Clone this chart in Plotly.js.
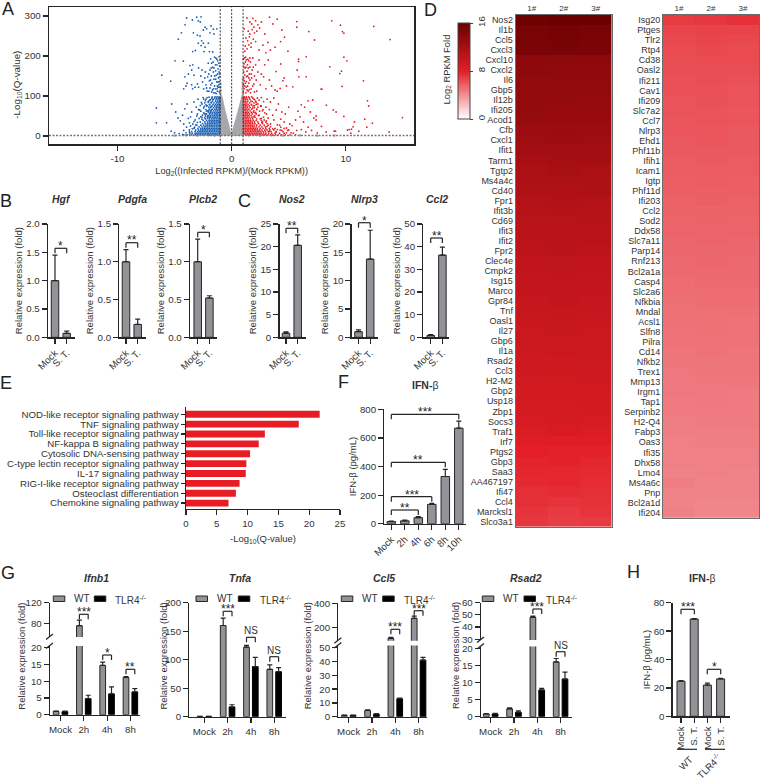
<!DOCTYPE html>
<html><head><meta charset="utf-8">
<script src="https://cdn.plot.ly/plotly-3.0.1.min.js"></script>
<style>html,body{margin:0;padding:0;background:#fff}#c{width:760px;height:781px}</style></head>
<body><div id="c"></div>
<script>
// ---------- A: volcano ----------
const grayRows=[[4,.08,.2,.32,.44,.56,.68,.8,.92,-.1,-.22,-.34,-.46,-.58,-.7,-.82,-.94],[9,.13,.25,.37,.49,.61,.73,.85,.97,-.15,-.27,-.39,-.51,-.63,-.75,-.87,-.98],[14,.17,.29,.41,.53,.65,.77,.89,-.2,-.32,-.44,-.56,-.68,-.8,-.92],[19,.21,.33,.45,.57,.69,.81,.93,-.25,-.37,-.49,-.61,-.73,-.85,-.97],[24,.26,.38,.5,.62,.74,.86,.98,-.29,-.41,-.53,-.65,-.77,-.89],[29,.31,.43,.55,.67,.79,.91,-.34,-.46,-.58,-.7,-.82,-.94],[34,.36,.48,.6,.72,.84,.96,-.38,-.5,-.62,-.74,-.86,-.98],[39,.41,.53,.65,.77,.89,-.43,-.55,-.67,-.79,-.91],[44,.46,.58,.7,.82,.94,-.48,-.6,-.72,-.84,-.96],[49,.51,.63,.75,.87,.98,-.52,-.64,-.76,-.88,-.99],[54,.55,.67,.79,.91,-.56,-.68,-.8,-.92],[59,.6,.72,.84,.96,-.61,-.73,-.85,-.97],[64,.64,.76,.88,.98,-.65,-.77,-.89],[69,.69,.81,.93,-.69,-.81,-.93],[74,.74,.86,.98,-.73,-.85,-.97],[79,.78,.9,-.77,-.89],[84,.83,.95,-.8,-.92],[89,.87,.98,-.84,-.96],[94,.92,.99,-.88,-.98],[99,.96,-.93]];
const graySparse=[[.98,108],[.95,118],[.99,126],[.97,133],[-.98,106],[-.96,114],[-.99,122],[-.97,130],[.99,142],[-5,1],[-4,2],[-3,1],[-2,2],[-1.5,1],[1.5,2],[2.5,1],[3.5,2],[4.5,1],[6,2],[7.5,1],[9,1]];
const blueSparse=[[-3.94,295],[-3.44,290],[-3.06,297],[-2.68,298],[-2.92,288],[-4.08,278],[-2.33,272],[-2.48,265],[-2.19,268],[-1.6,267],[-1.9,258],[-1.55,255],[-4.4,258],[-4.67,242],[-3.35,258],[-3,252],[-2.77,250],[-2.63,238],[-2.92,232],[-2.48,232],[-2.04,232],[-2.68,226],[-2.33,222],[-3.41,211],[-3.18,214],[-2.42,211],[-1.95,211],[-1.66,210],[-1.8,275],[-2.75,285],[-1.3,268],
[-4.96,188],[-4.23,187],[-6.12,152],[-5.34,137],[-3.65,176],[-3.41,178],[-3.79,155],[-4.1,148],[-3.5,165],[-2.9,170],[-2.6,165],[-2.3,160],[-3.9,132],[-3.3,152],[-3,130],[-4.2,118],[-4,125],[-3.5,128],[-3.42,118],[-3.2,122],[-2.9,122],[-2.7,150],[-2.55,135],[-2.45,118],[-2.35,145],[-2.25,128],[-2.15,112],[-2.05,182],[-2,155],[-1.95,138],[-1.9,120],[-1.85,193],[-1.8,170],[-1.78,150],[-1.72,132],[-1.68,115],[-1.62,185],[-1.6,160],[-1.55,142],[-1.5,125],[-1.45,108],[-1.42,178],[-1.38,195],[-1.35,152],[-1.3,135],[-1.28,118],[-1.22,188],[-1.2,168],[-1.15,145],[-1.12,128],[-1.08,110],[-1.05,175],[-1.03,155],[-1.02,190],[-1.1,198],[-1.5,197],[-1.4,163],[-1.25,112],[-1.18,122],[-1.35,106],[-1.6,118],[-1.75,110],[-1.05,136],[-1.1,160],[-1.28,178],[-1.48,150],[-1.66,172],[-1.9,165],[-2.1,148],[-2.2,120],[-1.12,182],[-1.3,192],[-1.22,155],[-1.4,142],[-1.55,170],[-1.75,182],[-1.85,140],[-1.02,122],[-1.06,148],[-1.18,135],[-1.42,118],[-1.58,108],[-1.82,128],[-2,112],[-1.25,125],
[-6.6,70],[-6.6,33],[-5.7,33],[-5.25,80],[-5.3,12],[-4.9,60],[-4.7,45],[-4.5,38],[-4.3,52],[-4.2,30],[-4.1,68],[-3.9,80],[-3.8,44],[-3.6,25],[-3.5,60],[-3.3,85],[-3.2,40],[-3.1,72],[-3,55],[-2.95,92],[-2.8,65],[-2.7,48],[-2.65,84],[-2.5,96],[-2.45,70],[-2.4,56],[-2.3,88],[-2.25,78],[-2.2,62],[-2.15,96],[-2.1,50],[-2.05,84],[-2,72],[-5,8],[-4.6,6],[-4.2,14],[-3.95,22],[-3.7,10],
[-2.6,42],[-2.35,45],[-2.1,44],[-1.95,47],[-2.55,52],[-2.3,50],[-2.2,55],[-2.45,58],[-2.05,60],[-1.9,56],[-2.7,62],[-2.25,66],[-2,64],[-2.4,74],[-2.15,76],[-1.95,78],[-2.6,80],[-2.35,83],[-2.05,86],[-1.9,90],[-2.25,92],[-1.98,97],[-2.45,92],[-2.75,76],[-2.9,66],[-3.05,50],[-2.85,44],[-3.3,36],[-3,34],[-3.6,48],[-3.4,30],[-3.7,33],[-3.15,28],[-3.25,22],[-3.45,18],[-3.7,15],[-4,8],[-4.3,4],[-1.7,58],[-1.75,66],[-1.8,74],[-1.78,84],[-1.65,92],[-1.85,62],[-1.88,50]];
const blueRows=[[3,-1.05,-1.2,-1.35,-1.5,-1.65,-1.8,-1.95,-2.1,-2.25,-2.4,-2.55,-2.7,-2.85,-3,-3.15,-3.3,-3.5,-3.7,-3.9,-4.2],[7,-1.1,-1.25,-1.4,-1.55,-1.7,-1.85,-2,-2.15,-2.3,-2.45,-2.6,-2.75,-2.9,-3.05,-3.2,-3.45,-3.65],[11,-1.03,-1.18,-1.33,-1.48,-1.63,-1.78,-1.93,-2.08,-2.23,-2.38,-2.53,-2.68,-2.83,-2.98,-3.2,-3.5],[15,-1.07,-1.22,-1.37,-1.52,-1.67,-1.82,-1.97,-2.12,-2.27,-2.42,-2.57,-2.72,-2.9,-3.15],[19,-1.02,-1.17,-1.32,-1.47,-1.62,-1.77,-1.92,-2.07,-2.22,-2.37,-2.52,-2.7,-2.95,-3.3],[23,-1.06,-1.21,-1.36,-1.51,-1.66,-1.81,-1.96,-2.11,-2.26,-2.41,-2.6,-2.85],[27,-1.04,-1.19,-1.34,-1.49,-1.64,-1.79,-1.94,-2.09,-2.24,-2.45,-2.7,-3.05],[31,-1.08,-1.23,-1.38,-1.53,-1.68,-1.83,-1.98,-2.13,-2.3,-2.55],[35,-1.03,-1.18,-1.33,-1.48,-1.63,-1.78,-1.93,-2.1,-2.35,-2.75],[39,-1.06,-1.21,-1.36,-1.51,-1.66,-1.81,-1.98,-2.2,-2.5],[43,-1.02,-1.17,-1.32,-1.47,-1.62,-1.77,-1.95,-2.3],[47,-1.09,-1.24,-1.39,-1.54,-1.69,-1.86,-2.12,-2.6],[51,-1.04,-1.19,-1.34,-1.49,-1.64,-1.82,-2.05],[55,-1.07,-1.22,-1.37,-1.52,-1.72,-1.95,-2.3],[59,-1.03,-1.18,-1.33,-1.48,-1.66,-1.88],[63,-1.08,-1.23,-1.38,-1.56,-1.78,-2.1],[67,-1.02,-1.17,-1.32,-1.47,-1.68,-1.95],[71,-1.06,-1.21,-1.36,-1.58,-1.84],[75,-1.04,-1.19,-1.34,-1.5,-1.72,-2.2],[79,-1.09,-1.24,-1.42,-1.63,-1.92],[83,-1.03,-1.18,-1.33,-1.55,-1.8],[87,-1.07,-1.22,-1.4,-1.68,-2],[91,-1.05,-1.2,-1.37,-1.6,-1.85],[95,-1.02,-1.16,-1.32,-1.5,-1.75],[98,-1.1,-1.28,-1.45,-1.7]];
const redSparse=[[1.34,295],[1.86,294],[3.32,297],[3.99,292],[3.61,280],[5.71,286],[5.71,272],[6.76,261],[7.26,240],[4.4,265],[4.63,247],[4.28,236],[4.93,212],[2.74,227],[3.17,234],[1.6,285],[1.75,280],[1.95,272],[2.1,288],[2.3,278],[2.45,270],[2.6,285],[1.45,262],[1.6,255],[1.8,266],[2,258],[2.2,262],[1.25,245],[1.4,238],[1.55,248],[1.7,232],[1.9,242],[2.1,236],[1.2,225],[1.35,218],[1.5,228],[1.7,222],[1.15,212],[1.1,268],[2.9,255],[3.4,215],[3,208],[3.8,222],[2.4,215],
[5.86,192],[5.86,186],[6.53,198],[5.74,165],[5.89,148],[6.53,148],[7.9,117],[5.36,123],[4.49,138],[4.8,125],[4.3,180],[3.9,161],[3.8,115],[3.99,112],[4.25,119],[4.6,145],[3.3,140],[3.5,125],[2.6,155],[2.9,178],[3.2,190],[2.4,190],[2.8,148],[3,118],[2.5,128],[2.2,112],[2.1,178],[2,150],[1.95,130],[1.85,195],[1.8,165],[1.75,145],[1.7,118],[1.65,185],[1.6,172],[1.55,155],[1.5,132],[1.45,112],[1.42,192],[1.38,178],[1.35,162],[1.3,148],[1.28,122],[1.25,108],[1.22,197],[1.2,185],[1.18,170],[1.15,152],[1.12,138],[1.1,118],[1.08,180],[1.06,160],[1.05,145],[1.04,128],[1.03,110],[1.02,192],[1.3,136],[1.4,125],[1.55,116],[1.6,140],[1.9,172],[2.15,140],[2.3,160],[1.5,188],[1.12,195],[1.28,190],[1.45,170],[1.6,195],[1.25,172],[1.4,150],[1.72,155],[1.15,125],[1.35,115],[1.85,125],[2,110],[1.5,145],[1.07,172],[1.2,132],[1.65,108],
[8.77,288],[9.53,277],[9.7,261],[9.83,257],[12.45,274],[13.88,241],[9.83,197],[10.1,188],[8.6,173],[9.62,162],[9.47,156],[11.55,138],[9.68,124],[7.84,117],[11.9,88],[12,75],[8.3,77],[8.9,65],[9.15,60],[9.83,49],[14.96,46],[11.66,42],[12.33,32],[10.76,35],[10.64,23],[11.84,22],[7.87,24],[7.4,40],[10.3,16],[10.15,15],[10.5,17],[9.1,12],[8.98,12],[8.28,10],[11.14,12],[13.79,10],[10.44,7],
[5.8,62],[6.1,78],[6.7,88],[7.1,90],[6.4,72],[6.9,60],[7.4,50],[7.2,45],[6,48],[5.6,40],[6.3,35],[6.7,22],[6.1,16],[6.5,10],[7,14],[7.5,8],[5.3,26],[5.1,30],[5.7,14],[5.2,8],[4.8,20],[4.6,35],[4.4,60],[4.1,80],[3.7,95],[3.9,65],[4.7,55],[5,72],[4.3,42],[3.4,85],[3.1,92],[3.3,66],[3.6,52],[3,72],[2.8,86],[2.9,58],[2.6,96],[2.55,75],[2.4,90],[2.45,62],[2.3,80],[2.25,95],[3.7,40],[3.2,45],[4,28],[4.4,14],[4.8,8],[3.6,18],[3.9,10],
[2.4,52],[2.6,44],[2.2,66],[2.05,58],[2.3,72],[2,76],[2.15,84],[1.95,92],[2.75,66],[3.05,38],[2.85,40],[2.65,34],[3.4,30],[3.1,24],[4.3,22],[4,16],[3.3,12],[4.9,14],[1.8,86],[1.75,78],[1.85,70],[1.9,60],[1.95,48]];
const redRows=[[3,1.05,1.2,1.35,1.5,1.65,1.8,1.95,2.1,2.25,2.4,2.55,2.7,2.85,3,3.2,3.4,3.6,3.85,4.1,4.35,4.7,5.1,5.6],[7,1.1,1.25,1.4,1.55,1.7,1.85,2,2.15,2.3,2.45,2.6,2.8,3,3.25,3.5,3.8,4.2,4.6,5.4],[11,1.03,1.18,1.33,1.48,1.63,1.78,1.93,2.08,2.23,2.38,2.55,2.75,2.95,3.2,3.45,3.9,4.5],[15,1.07,1.22,1.37,1.52,1.67,1.82,1.97,2.12,2.27,2.45,2.65,2.9,3.1,3.35,3.7,4.25,5],[19,1.02,1.17,1.32,1.47,1.62,1.77,1.92,2.07,2.25,2.5,2.75,3,3.3,3.8,4.6],[23,1.06,1.21,1.36,1.51,1.66,1.81,1.96,2.15,2.4,2.65,2.95,3.4],[27,1.04,1.19,1.34,1.49,1.64,1.79,1.98,2.2,2.5,2.85,3.2,4.2],[31,1.08,1.23,1.38,1.53,1.68,1.85,2.05,2.35,2.7,3.1],[35,1.03,1.18,1.33,1.48,1.63,1.8,2,2.3,2.7,3],[39,1.06,1.21,1.36,1.51,1.68,1.9,2.15,2.6],[43,1.02,1.17,1.32,1.47,1.65,1.85,2.2,2.5],[47,1.09,1.24,1.39,1.56,1.78,2.05,2.8],[51,1.04,1.19,1.34,1.49,1.7,2,2.35],[55,1.07,1.22,1.37,1.55,1.8,2.15,3.05],[59,1.03,1.18,1.33,1.48,1.72,2.1],[63,1.08,1.23,1.4,1.62,1.95,2.7],[67,1.02,1.17,1.32,1.5,1.75,2.2],[71,1.06,1.21,1.38,1.62,2],[75,1.04,1.19,1.34,1.55,1.88,2.6],[79,1.09,1.24,1.44,1.72,2.15],[83,1.03,1.18,1.33,1.58,1.95],[87,1.07,1.22,1.42,1.7,2.1],[91,1.05,1.2,1.38,1.62,2],[95,1.02,1.16,1.32,1.55,1.85],[98,1.1,1.28,1.48,1.75]];
const volcanoXTicks=[-10,0,10], volcanoXText=['-10','0','10'];
const volcanoYTicks=[0,100,200,300];

// ---------- B, C: expression ----------
const mockVsST=['Mock','S. T.'];
const hgfVals=[1,.07],hgfErr=[.45,.04];
const pdgfaVals=[1,.17],pdgfaErr=[.16,.07];
const plcb2Vals=[1,.52],plcb2Err=[.3,.03];
const nos2Vals=[.9,20.3],nos2Err=[.3,2.3];
const nlrp3Vals=[1,13.8],nlrp3Err=[.3,5.1];
const ccl2Vals=[.8,36.3],ccl2Err=[.4,3.5];

// ---------- E ----------
const pathways=['NOD-like receptor signaling pathway','TNF signaling pathway','Toll-like receptor signaling pathway','NF-kappa B signaling pathway','Cytosolic DNA-sensing pathway','C-type lectin receptor signaling pathway','IL-17 signaling pathway','RIG-I-like receptor signaling pathway','Osteoclast differentiation','Chemokine signaling pathway'];
const pathwayQ=[21.7,18.3,12.8,11.8,10.4,9.8,9.7,8.7,8.1,6.9];

// ---------- F ----------
const timeF=['Mock','2h','4h','6h','8h','10h'];
const ifnF=[15,20,42,135,330,668], ifnFErr=[4,5,8,8,50,50];

// ---------- G ----------
const timeG=['Mock','2h','4h','8h'];
const ifnb1WT=[1,75.3,14.7,11.1],ifnb1WTErr=[.1,10.7,1,.3],ifnb1KO=[.9,4.8,6.2,6.8],ifnb1KOErr=[.2,1,2.1,1];
const tnfaWT=[.6,160,122,83],tnfaWTErr=[.2,13,3,8],tnfaKO=[.6,17,88,79],tnfaKOErr=[.2,4,16,7];
const ccl5WT=[1,4.5,108,275],ccl5WTErr=[.2,.5,8,18],ccl5KO=[1,1.8,13,41],ccl5KOErr=[.2,.4,.4,2];
const rsad2WT=[.8,2.3,48,16],rsad2WTErr=[.1,.3,1,1],rsad2KO=[.8,1.3,7.8,11],rsad2KOErr=[.2,.4,.5,2];

// ---------- H ----------
const groupH=['WT Mock','WT S. T.','KO Mock','KO S. T.'], groupHText=['Mock','S. T.','Mock','S. T.'];
const ifnH=[24.7,68.5,22,26.3], ifnHErr=[.5,.3,1.3,.5];

// ---------- D: heatmaps ----------
const samples=['1#','2#','3#'];
const genesLeft=['Nos2','Il1b','Ccl5','Cxcl3','Cxcl10','Cxcl2','Il6','Gbp5','Il12b','Ifi205','Acod1','Cfb','Cxcl1','Ifit1','Tarm1','Tgtp2','Ms4a4c','Cd40','Fpr1','Ifit3b','Cd69','Ifit3','Ifit2','Fpr2','Clec4e','Cmpk2','Isg15','Marco','Gpr84','Tnf','Oasl1','Il27','Gbp6','Il1a','Rsad2','Ccl3','H2-M2','Gbp2','Usp18','Zbp1','Socs3','Traf1','Irf7','Ptgs2','Gbp3','Saa3','AA467197','Ifi47','Ccl4','Marcksl1','Slco3a1'];
const zLeft=[[15.7,15.9,15.9],[15,15.2,15],[15,15.1,14.9],[14.8,15,14.8],[13.6,13.7,13.7],[13.6,13.5,13.5],[13.4,13.4,13.3],[13.2,13.3,13.3],[13.2,13.2,13.1],[13.2,13,13.1],[13,13,13],[12.7,12.8,12.7],[12.5,12.6,12.5],[12.3,12.3,12.2],[12,12.1,12.1],[11.8,11.9,11.8],[11.6,11.7,11.6],[11.4,11.4,11.5],[11.2,11.3,11.2],[11,11.1,11],[10.9,10.9,11],[10.8,10.9,10.8],[10.7,10.7,10.8],[10.6,10.7,10.6],[10.4,10.5,10.4],[10.3,10.3,10.4],[10.2,10.3,10.2],[10.1,10.1,10.2],[10,10.1,10],[9.9,9.9,10],[9.8,9.9,9.8],[9.7,9.8,9.7],[9.6,9.6,9.7],[9.5,9.6,9.5],[9.4,9.4,9.5],[9.3,9.4,9.3],[9.2,9.2,9.3],[9.1,9.1,9.2],[9,9.1,9],[8.9,8.9,9],[8.8,8.9,8.8],[8.6,8.7,8.6],[8.3,8.2,8.2],[8,7.9,7.9],[7.8,7.9,7.7],[7.7,7.7,7.6],[7.6,7.7,7.5],[7.4,7.5,7.4],[7.4,7.2,7.3],[7.2,7,7.2],[7.1,6.9,7]];
const genesRight=['Isg20','Ptges','Tlr2','Rtp4','Cd38','Oasl2','Ifi211','Cav1','Ifi209','Slc7a2','Ccl7','Nlrp3','Ehd1','Phf11b','Ifih1','Icam1','Igtp','Phf11d','Ifi203','Ccl2','Sod2','Ddx58','Slc7a11','Parp14','Rnf213','Bcl2a1a','Casp4','Slc2a6','Nfkbia','Mndal','Acsl1','Slfn8','Pilra','Cd14','Nfkb2','Trex1','Mmp13','Irgm1','Tap1','Serpinb2','H2-Q4','Fabp3','Oas3','Ifi35','Dhx58','Lmo4','Ms4a6c','Pnp','Bcl2a1d','Ifi204'];
const zRight=[[7,7.1,7.3],[6.6,6.7,6.7],[6.5,6.6,6.5],[6.4,6.5,6.4],[6.3,6.4,6.4],[6.3,6.3,6.3],[6.2,6.3,6.2],[6.2,6.2,6.1],[6.1,6.2,6.1],[6.1,6.1,6],[6,6.1,6],[6,6,5.9],[5.9,6,5.9],[5.9,5.9,5.9],[5.8,5.9,5.8],[5.8,5.8,5.8],[5.7,5.8,5.7],[5.7,5.7,5.7],[5.6,5.7,5.6],[5.6,5.6,5.6],[5.5,5.6,5.5],[5.5,5.5,5.5],[5.4,5.5,5.4],[5.4,5.4,5.4],[5.3,5.4,5.3],[5.3,5.3,5.3],[5.2,5.3,5.3],[5.2,5.2,5.2],[5.1,5.2,5.2],[5.1,5.1,5.1],[5.1,5.1,5],[5,5.1,5],[5,5,5],[4.9,5,4.9],[4.9,4.9,4.9],[4.8,4.9,4.9],[4.8,4.8,4.8],[4.8,4.8,4.7],[4.7,4.8,4.7],[4.7,4.7,4.7],[4.6,4.7,4.7],[4.6,4.6,4.6],[4.5,4.6,4.6],[4.5,4.5,4.5],[4.5,4.5,4.5],[4.4,4.5,4.4],[4.6,4.4,4.4],[4.4,4.4,4.4],[4.4,4.3,4.3],[4.5,4.3,4.3]];
const heatScale=[[0,'#ffffff'],[.5,'#e31e26'],[1,'#6a0000']];

// ---------- rendering ----------
const W=760,H=781, FONT='"Liberation Sans",Arial,sans-serif', INK='#333333', LINE='#262626';
const BAR='#939397', RED='#e81c24', TITLE=9.5, TICK=9.7;
const px=p=>p/W, py=p=>1-p/H;
const traces=[],shapes=[],annotations=[];
const layout={width:W,height:H,margin:{l:0,r:0,t:0,b:0},paper_bgcolor:'#fff',plot_bgcolor:'rgba(0,0,0,0)',showlegend:false,barmode:'overlay',font:{family:FONT,color:INK,size:TICK},shapes,annotations};
let n=0;
function nextAxis(){n++;return {x:n===1?'x':'x'+n,y:n===1?'y':'y'+n,xk:n===1?'xaxis':'xaxis'+n,yk:n===1?'yaxis':'yaxis'+n};}
const axisBase={showline:true,linecolor:LINE,linewidth:1.3,ticks:'outside',ticklen:5,tickwidth:1.2,tickcolor:LINE,showgrid:false,zeroline:false,tickfont:{size:TICK,color:INK}};
function text(x,y,t,o={}){annotations.push(Object.assign({xref:'paper',yref:'paper',x:px(x),y:py(y),text:t,showarrow:false,xanchor:'center',yanchor:'middle',font:{size:10,color:INK}},o));}
function line(x0,y0,x1,y1,c=LINE,w=1.2){shapes.push({type:'line',xref:'paper',yref:'paper',x0:px(x0),x1:px(x1),y0:py(y0),y1:py(y1),line:{color:c,width:w}});}
function bracket(x0,x1,y,label,drop=5){line(x0,y+drop,x0,y);line(x0,y,x1,y);line(x1,y,x1,y+drop);
  if(label==='NS')text((x0+x1)/2,y-6.5,label,{font:{size:10,color:INK}});else text((x0+x1)/2,y-2.2,label,{font:{size:12,color:'#222'}});}
function errBar(arr){return {type:'data',symmetric:false,array:arr,arrayminus:arr.map(()=>0),color:LINE,thickness:1.2,width:2.5};}
function yTitleText(s,x,y){text(x,y,s,{textangle:-90,font:{size:TITLE,color:INK}});}

function simpleBar(o){
  const a=nextAxis(), bw=o.bw/o.step;
  traces.push({type:'bar',x:o.cats,y:o.vals,width:bw,error_y:errBar(o.errs),marker:{color:BAR,line:{color:LINE,width:1}},xaxis:a.x,yaxis:a.y});
  layout[a.xk]=Object.assign({},axisBase,{type:'category',domain:[px(o.L),px(o.R)],anchor:a.y,range:[(o.L-o.c0)/o.step,(o.R-o.c0)/o.step],tickangle:o.angle===undefined?-45:o.angle,tickmode:'array',tickvals:o.cats,ticktext:o.tickText||o.cats});
  layout[a.yk]=Object.assign({},axisBase,{domain:[py(o.B),py(o.T)],anchor:a.x,range:o.yr,tick0:0,dtick:o.dtick,tickformat:o.fmt||'d',title:{text:o.ytitle,font:{size:TITLE,color:INK},standoff:o.standoff}});
}
function brokenBar(o){
  const a=nextAxis(), bw=o.bw/o.step, sep=o.sep/o.step;
  const mk=(yAxis)=>[
    {type:'bar',name:'WT',x:o.cats,y:o.wt,width:bw,offset:-sep-bw/2,error_y:errBar(o.wtErr),marker:{color:BAR,line:{color:LINE,width:1}},xaxis:a.x,yaxis:yAxis},
    {type:'bar',name:'TLR4-/-',x:o.cats,y:o.ko,width:bw,offset:sep-bw/2,error_y:errBar(o.koErr),marker:{color:'#000',line:{color:'#000',width:1}},xaxis:a.x,yaxis:yAxis}];
  mk(a.y).forEach(t=>traces.push(t));
  layout[a.xk]=Object.assign({},axisBase,{type:'category',domain:[px(o.L),px(o.R)],anchor:a.y,range:[(o.L-o.c0)/o.step,(o.R-o.c0)/o.step],tickangle:0,tickmode:'array',tickvals:o.cats,ticktext:o.cats,ticklabelstandoff:-2.5});
  layout[a.yk]=Object.assign({},axisBase,{domain:[py(o.lower.B),py(o.lower.T)],anchor:a.x,range:o.lower.range,tickmode:'array',tickvals:o.lower.ticks});
  if(o.upper){
    n++; const uy='y'+n, uk='yaxis'+n;
    mk(uy).forEach(t=>traces.push(t));
    layout[uk]=Object.assign({},axisBase,{domain:[py(o.upper.B),py(o.upper.T)],anchor:a.x,range:o.upper.range,tickmode:'array',tickvals:o.upper.ticks});
    line(o.L-4,o.upper.B+2.5,o.L+3,o.upper.B-3,LINE,1.3);
    line(o.L-4,o.lower.T+2.5,o.L+3,o.lower.T-3,LINE,1.3);
  }
  const sw=(x,c)=>shapes.push({type:'rect',xref:'paper',yref:'paper',x0:px(x),x1:px(x+11.5),y0:py(596),y1:py(601.5),fillcolor:c,line:{color:LINE,width:1}});
  sw(o.leg[0],BAR);sw(o.leg[2],'#000');
  text(o.leg[1],598.3,'WT',{xanchor:'left',font:{size:10,color:INK}});
  text(o.leg[3],600,'TLR4<sup>-/-</sup>',{xanchor:'left',font:{size:10,color:INK}});
}

// A
const a=nextAxis();
const expand=r=>{const o=[];r.forEach(row=>row.slice(1).forEach(x=>o.push([x,row[0]])));return o;};
const scat=(pts,c,s,name)=>traces.push({type:'scatter',mode:'markers',name,x:pts.map(p=>p[0]),y:pts.map(p=>p[1]),marker:{color:c,size:s,line:{width:0}},xaxis:a.x,yaxis:a.y});
scat(graySparse.concat(expand(grayRows)),'#a8a6aa',2.6,'NS');
scat(blueSparse.concat(expand(blueRows)),'#1b62b5',1.8,'Down');
scat(redSparse.concat(expand(redRows)),'#e61f28',1.8,'Up');
layout[a.xk]=Object.assign({},axisBase,{domain:[px(49),px(414.3)],anchor:a.y,range:[-16,16],tickmode:'array',tickvals:volcanoXTicks,ticktext:volcanoXText,mirror:true,title:{text:'Log<sub>2</sub>((Infected RPKM)/(Mock RPKM))',font:{size:TITLE-.3,color:INK},standoff:4}});
layout[a.yk]=Object.assign({},axisBase,{domain:[py(144.3),py(7.3)],anchor:a.x,range:[-20.75,321.75],tickmode:'array',tickvals:volcanoYTicks,mirror:true});
text(16.7,85,'-Log<sub>10</sub>(Q-value)',{textangle:-90,font:{size:TITLE+.3,color:INK}});
[-1,0,1].forEach(v=>shapes.push({type:'line',xref:a.x,yref:a.y,x0:v,x1:v,y0:-20.75,y1:321.75,line:{color:'#333',width:1,dash:'2px,1.5px'}}));
shapes.push({type:'line',xref:a.x,yref:a.y,x0:-16,x1:16,y0:1.3,y1:1.3,line:{color:'#777',width:1.3,dash:'2px,1.5px'}});

// B & C
const small=[
 {t:'Hgf',tx:61.7,cats:mockVsST,vals:hgfVals,errs:hgfErr,L:48,R:75,c0:55,yr:[0,2],dtick:.5,fmt:'.1f',br:[248.3,'*']},
 {t:'Pdgfa',tx:132.3,cats:mockVsST,vals:pdgfaVals,errs:pdgfaErr,L:119.3,R:146,c0:126,yr:[0,1.5],dtick:.5,fmt:'.1f',br:[242.7,'**']},
 {t:'Plcb2',tx:203.3,cats:mockVsST,vals:plcb2Vals,errs:plcb2Err,L:190,R:217,c0:197.7,yr:[0,1.5],dtick:.5,fmt:'.1f',br:[232.3,'*']},
 {t:'Nos2',tx:292.3,cats:mockVsST,vals:nos2Vals,errs:nos2Err,L:279.5,R:306,c0:286,yr:[0,25],dtick:5,br:[228.3,'**']},
 {t:'Nlrp3',tx:364,cats:mockVsST,vals:nlrp3Vals,errs:nlrp3Err,L:351.7,R:378,c0:358.5,yr:[0,20],dtick:5,br:[222.7,'*']},
 {t:'Ccl2',tx:436.7,cats:mockVsST,vals:ccl2Vals,errs:ccl2Err,L:423.3,R:449,c0:430.7,yr:[0,50],dtick:10,br:[238,'**']}];
small.forEach(s=>{
  simpleBar(Object.assign({T:224,B:337.3,step:11.7,bw:7.5,ytitle:'Relative expression (fold)',standoff:2},s));
  text(s.tx,199,'<b><i>'+s.t+'</i></b>',{font:{size:10.5,color:INK}});
  bracket(s.c0,s.c0+11.7,s.br[0],s.br[1]);
});

// E
const e=nextAxis();
traces.push({type:'bar',orientation:'h',x:pathwayQ,y:pathways,width:.7,marker:{color:RED},xaxis:e.x,yaxis:e.y});
layout[e.xk]=Object.assign({},axisBase,{domain:[px(186),px(340)],anchor:e.y,range:[0,25],dtick:5,tick0:0,title:{text:'-Log<sub>10</sub>(Q-value)',font:{size:TITLE,color:INK},standoff:7}});
layout[e.yk]=Object.assign({},axisBase,{type:'category',domain:[py(509),py(406.7)],anchor:e.x,range:[9.6,-.77],tickmode:'array',tickvals:pathways,ticktext:pathways,ticklen:4,ticklabelstandoff:-1.5,tickfont:{size:9.7,color:INK}});

// F
simpleBar({cats:timeF,vals:ifnF,errs:ifnFErr,L:384.3,R:466,c0:391.3,step:13.5,bw:8.5,T:409.3,B:523.7,yr:[0,800],dtick:200,ytitle:'IFN-β (pg/mL)',standoff:1});
text(425,385,'<b>IFN-</b>β',{font:{size:10.5,color:INK}});
const fx=i=>391.3+13.5*i;
bracket(fx(0),fx(5),414.3,'***');bracket(fx(0),fx(4),462.3,'**');bracket(fx(0),fx(3),496.7,'***');bracket(fx(0),fx(2),510,'**');

// G
const G=[
 {t:'Ifnb1',tx:96,ty:20.7,wt:ifnb1WT,wtErr:ifnb1WTErr,ko:ifnb1KO,koErr:ifnb1KOErr,L:50,R:140.3,c0:60.5,leg:[53.3,71.7,94.3,112.7],
  lower:{T:646,B:714.7,range:[0,20.5],ticks:[0,5,10,15,20]},upper:{T:602.7,B:637,range:[53.4,120],ticks:[80,120]},
  br:[[1,614.3,'***'],[2,655,'*'],[3,669.3,'**']]},
 {t:'Tnfa',tx:240,ty:162.5,wt:tnfaWT,wtErr:tnfaWTErr,ko:tnfaKO,koErr:tnfaKOErr,L:189.3,R:285.7,c0:204.3,leg:[196,215,238.3,257.7],
  lower:{T:602.7,B:716.7,range:[0,200],ticks:[0,50,100,150,200]},
  br:[[1,611.3,'***'],[2,637.3,'NS'],[3,656.7,'NS']]},
 {t:'Ccl5',tx:384.3,ty:307.3,wt:ccl5WT,wtErr:ccl5WTErr,ko:ccl5KO,koErr:ccl5KOErr,L:338.3,R:427.3,c0:348.7,leg:[341.3,360,382.7,401.7],
  lower:{T:645.5,B:716.7,range:[0,51.6],ticks:[0,10,20,30,40,50]},upper:{T:603.3,B:640.7,range:[88.3,400],ticks:[200,400]},
  br:[[2,629.3,'***'],[3,610.7,'***']]},
 {t:'Rsad2',tx:525.7,ty:455,wt:rsad2WT,wtErr:rsad2WTErr,ko:rsad2KO,koErr:rsad2KOErr,L:481,R:571.7,c0:490.7,leg:[482.3,501,524,544],
  lower:{T:646.5,B:716.7,range:[0,20.5],ticks:[0,5,10,15,20]},upper:{T:602.7,B:640,range:[29.4,60],ticks:[30,40,50,60]},
  br:[[2,609,'***'],[3,651.7,'NS']]}];
G.forEach(g=>{
  brokenBar(Object.assign({cats:timeG,step:23.3,bw:5.7,sep:4.4},g));
  text(g.tx,578,'<b><i>'+g.t+'</i></b>',{font:{size:10.5,color:INK}});
  yTitleText('Relative expression (fold)',g.ty,656);
  g.br.forEach(b=>{const c=g.c0+23.3*b[0];bracket(c-4.4,c+4.4,b[1],b[2]);});
});

// H
simpleBar({cats:groupH,tickText:groupHText,vals:ifnH,errs:ifnHErr,L:672.7,R:730,c0:681,step:13.2,bw:8,T:602.7,B:716.3,yr:[0,80],dtick:20,angle:-90,ytitle:'IFN-β (pg/mL)',standoff:1.5});
text(701.7,578,'<b>IFN-</b>β',{font:{size:10.5,color:INK}});
bracket(681,694.3,609.3,'***');bracket(707.3,720.7,669.3,'*');
line(677,749.3,697,749.3);line(705,749.3,725,749.3);
text(685,763,'WT',{textangle:-45,font:{size:9.6,color:INK}});
text(709,766,'TLR4<sup>-/-</sup>',{textangle:-45,font:{size:9.6,color:INK}});

// D
function heat(genes,z,L,R,T,B,scale){
  const h=nextAxis();
  const t={type:'heatmap',x:samples,y:genes,z,colorscale:heatScale,zmin:0,zmax:16,showscale:scale,xaxis:h.x,yaxis:h.y};
  if(scale)t.colorbar={lenmode:'pixels',len:96,thicknessmode:'pixels',thickness:12,x:px(458),xanchor:'left',y:py(119),yanchor:'bottom',xpad:0,ypad:0,outlinecolor:'#444',outlinewidth:1,ticks:'outside',ticklen:3,tickwidth:1,tickcolor:'#444',tickmode:'array',tickvals:[0,8,16],tickangle:-90,tickfont:{size:9.6,color:INK}};
  traces.push(t);
  layout[h.xk]={domain:[px(L),px(R)],anchor:h.y,side:'top',type:'category',tickmode:'array',tickvals:samples,ticktext:samples,ticks:'',ticklabelstandoff:-3.5,showgrid:false,zeroline:false,showline:true,mirror:true,linecolor:'#6b6b6b',linewidth:1,tickfont:{size:8,color:INK}};
  layout[h.yk]={domain:[py(B),py(T)],anchor:h.x,type:'category',autorange:'reversed',tickmode:'array',tickvals:genes,ticktext:genes,ticks:'',showgrid:false,zeroline:false,showline:true,mirror:true,linecolor:'#6b6b6b',linewidth:1,tickfont:{size:9,color:INK}};
}
heat(genesLeft,zLeft,515.7,611.7,14.8,526.8,true);
heat(genesRight,zRight,663,759,15,517.7,false);
text(446.5,70,'Log<sub>2</sub> RPKM Fold',{textangle:-90,font:{size:9.4,color:INK}});

// panel letters
[['A',8,9],['B',6,201],['C',244,201],['D',430,10],['E',5.5,383],['F',343,382],['G',8,573],['H',633,572]].forEach(l=>text(l[1],l[2],l[0],{font:{size:18,color:'#222'}}));

Plotly.newPlot('c',traces,layout,{staticPlot:true,displayModeBar:false});
</script></body></html>
